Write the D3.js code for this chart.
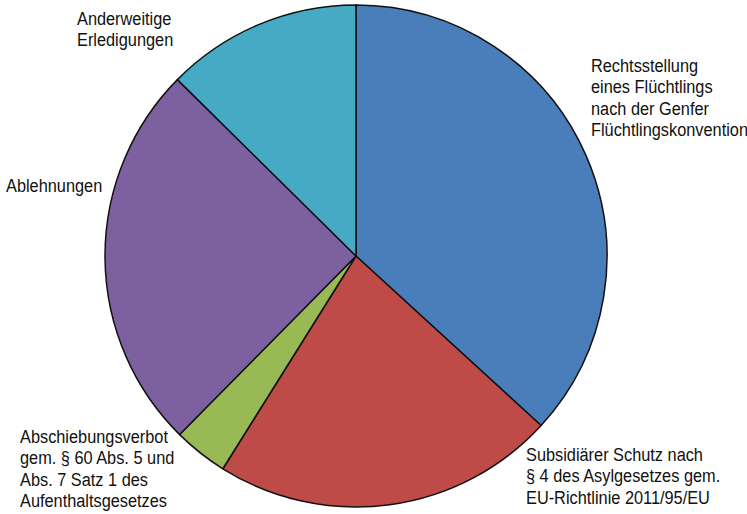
<!DOCTYPE html>
<html>
<head>
<meta charset="utf-8">
<script src="https://cdn.jsdelivr.net/npm/d3@7"></script>
<style>
  body { margin: 0; background: #fff; }
  text { font-family: "Liberation Sans", Arial, sans-serif; font-size: 19px; fill: #111; }
</style>
</head>
<body>
<svg width="747" height="514"></svg>
<script>
// Entscheidungen (Anteile in %), im Uhrzeigersinn ab 12 Uhr
const categories = [
  "Rechtsstellung eines Flüchtlings nach der Genfer Flüchtlingskonvention",
  "Subsidiärer Schutz nach § 4 des Asylgesetzes gem. EU-Richtlinie 2011/95/EU",
  "Abschiebungsverbot gem. § 60 Abs. 5 und Abs. 7 Satz 1 des Aufenthaltsgesetzes",
  "Ablehnungen",
  "Anderweitige Erledigungen"
];
const values = [36.8, 22.1, 3.5, 25.0, 12.6];
const labelLines = [
  ["Rechtsstellung", "eines Flüchtlings", "nach der Genfer", "Flüchtlingskonvention"],
  ["Subsidiärer Schutz nach", "§ 4 des Asylgesetzes gem.", "EU-Richtlinie 2011/95/EU"],
  ["Abschiebungsverbot", "gem. § 60 Abs. 5 und", "Abs. 7 Satz 1 des", "Aufenthaltsgesetzes"],
  ["Ablehnungen"],
  ["Anderweitige", "Erledigungen"]
];
const colors = ["#4a7ebb", "#be4b48", "#98b954", "#7d60a0", "#46aac5"];

// label placement: x of left edge, baseline of first line
const labelPos = [[591, 72], [526, 461], [20, 443], [6, 192], [77, 25]];

const svg = d3.select("svg");
const cx = 356, cy = 256, r = 251;
const lineH = 21.5;
const squeeze = 0.86; // text in the source is a bit narrower than Arial

const g = svg.append("g").attr("transform", "translate(" + cx + "," + cy + ")");

const pie = d3.pie().sort(null).value(function(d) { return d; });
const arc = d3.arc().innerRadius(0).outerRadius(r);

g.selectAll("path")
  .data(pie(values))
  .enter().append("path")
    .attr("d", arc)
    .attr("fill", function(d, i) { return colors[i]; })
    .attr("stroke", "#111")
    .attr("stroke-width", 1.5)
    .attr("stroke-linejoin", "round");

const labels = svg.selectAll("g.lbl")
  .data(labelLines)
  .enter().append("g")
    .attr("class", "lbl")
    .attr("transform", function(d, i) {
      return "translate(" + labelPos[i][0] + "," + labelPos[i][1] + ") scale(" + squeeze + ",1)";
    })
  .append("text");

labels.selectAll("tspan")
  .data(function(d) { return d; })
  .enter().append("tspan")
    .attr("x", 0)
    .attr("y", function(d, j) { return j * lineH; })
    .text(function(d) { return d; });
</script>
</body>
</html>
